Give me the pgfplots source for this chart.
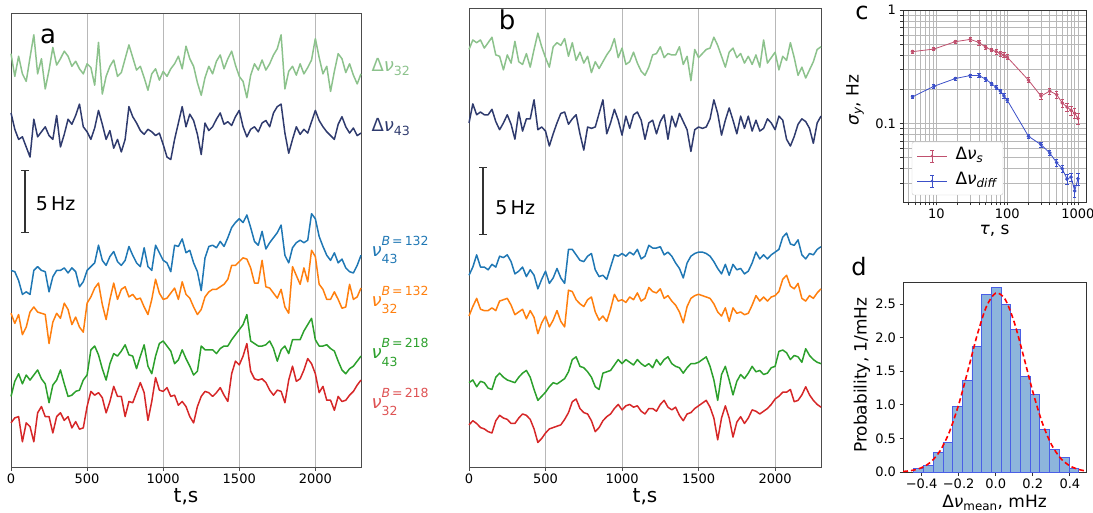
\documentclass[border=0pt]{standalone}
\usepackage{pgfplots}
\usepackage{pgfplotstable}
\usepackage{fontspec}
\setmainfont{DejaVu Sans}
\pgfplotsset{compat=1.18}

\definecolor{cA}{HTML}{1F77B4}
\definecolor{cB}{HTML}{FF7F0E}
\definecolor{cC}{HTML}{2CA02C}
\definecolor{cD}{HTML}{D62728}
\definecolor{lgreen}{HTML}{8CC28C}
\definecolor{navy}{HTML}{2F3B6E}
\definecolor{pinkc}{HTML}{C0506E}
\definecolor{bluec}{HTML}{3C50C8}
\definecolor{histfill}{HTML}{8DB5DC}
\definecolor{histedge}{HTML}{4A5FE6}
\definecolor{gridc}{HTML}{B8B8B8}

% panel a: t [s], six traces [Hz, offset]
\pgfplotstableread{
t g n b o gr r
0 32.8 28.1 15.6 12.2 5.6 3.5
25 31.0 26.8 15.5 11.4 6.8 3.9
50 32.6 26.0 14.8 12.1 7.4 4.0
75 31.2 26.2 13.7 10.5 6.6 2.0
100 30.6 25.4 13.9 11.1 7.3 3.5
125 32.5 24.6 13.7 12.3 6.9 3.2
150 34.3 27.6 15.6 12.7 7.3 2.0
175 31.2 26.2 15.9 12.3 7.7 4.3
200 32.4 26.6 15.6 12.2 7.0 4.8
225 30.0 27.0 15.5 12.1 6.6 4.0
250 31.5 26.3 13.9 9.8 5.1 4.0
275 33.3 26.0 15.1 11.5 6.5 2.7
300 31.9 27.9 15.6 12.2 6.9 4.0
325 32.4 25.4 15.6 11.8 7.7 4.3
350 33.0 26.4 15.8 13.0 6.6 3.7
375 32.6 27.6 15.4 12.5 5.6 4.0
400 31.8 27.2 15.8 11.3 5.7 3.1
425 32.2 27.9 15.5 11.9 6.0 3.6
450 31.6 28.8 14.3 11.1 6.1 3.0
475 31.2 27.0 14.7 10.7 6.9 3.1
500 32.0 26.6 15.6 13.0 7.3 4.8
525 31.7 26.0 15.9 13.5 9.3 6.0
550 30.3 26.9 16.2 14.2 9.6 5.7
575 33.7 28.3 17.6 14.6 8.9 5.9
600 29.6 27.2 16.4 12.9 7.8 5.5
625 31.0 26.0 16.0 11.7 6.9 4.3
650 31.8 26.7 16.7 13.3 8.2 5.2
675 32.3 25.3 17.1 14.6 9.0 6.4
700 31.0 26.0 16.3 13.3 8.8 5.6
725 31.3 25.0 16.0 14.1 9.2 5.6
750 32.4 26.0 16.4 14.3 9.7 4.0
775 33.5 28.6 17.5 13.5 8.9 5.2
800 32.5 27.8 16.8 13.7 8.8 5.1
825 31.5 27.3 16.2 13.3 7.8 5.9
850 31.8 26.7 15.9 13.4 8.8 6.7
875 30.9 26.4 17.4 12.7 9.7 5.9
900 29.9 26.8 15.9 12.1 8.0 3.7
925 31.2 26.6 15.6 13.3 7.4 5.2
950 31.6 26.3 17.6 14.9 8.8 7.1
975 30.7 26.5 17.0 13.8 9.8 6.1
1000 31.4 25.6 16.4 13.3 10.0 6.0
1025 31.0 24.6 16.2 13.4 9.6 6.3
1050 31.6 24.4 15.5 13.8 9.2 5.6
1075 32.0 26.0 17.6 14.2 8.2 5.7
1100 32.6 27.3 17.5 13.3 8.5 4.9
1125 31.6 28.6 18.1 14.7 9.3 5.2
1150 33.4 27.0 17.0 13.7 8.6 4.8
1175 32.4 28.0 17.2 13.4 8.0 4.0
1200 31.8 27.5 16.2 12.7 7.3 3.5
1225 30.5 26.4 15.5 12.1 7.6 4.8
1250 29.5 24.8 14.0 12.5 9.6 5.6
1275 30.9 27.3 16.6 13.5 9.3 6.0
1300 31.8 26.7 17.5 13.9 9.3 5.9
1325 31.2 27.0 17.6 14.1 9.3 5.6
1350 32.2 27.6 17.4 14.1 9.0 5.9
1375 32.7 28.1 17.9 14.3 9.4 6.3
1400 31.6 27.2 17.5 14.5 9.6 5.7
1425 32.4 27.4 18.2 14.9 9.6 5.2
1450 33.0 27.1 19.0 16.0 10.1 7.4
1475 31.9 27.8 19.4 16.0 10.5 8.4
1500 31.0 28.3 19.7 16.3 10.9 8.1
1525 30.6 27.0 19.4 16.6 11.3 8.8
1550 29.3 26.2 20.0 16.5 12.1 9.8
1575 31.1 26.8 19.0 15.8 10.0 7.6
1600 32.0 27.0 17.9 14.6 9.8 7.0
1625 31.5 26.6 17.6 14.6 9.6 6.9
1650 32.3 27.3 18.7 16.4 9.6 7.0
1675 31.5 27.5 17.3 14.3 9.7 6.7
1700 32.0 27.0 17.8 14.2 10.0 6.1
1725 32.7 28.1 18.2 13.8 9.4 5.7
1750 33.2 28.6 18.6 13.4 8.4 6.1
1775 34.3 28.8 19.2 14.1 9.3 6.0
1800 30.0 26.5 16.8 12.7 9.6 5.1
1825 31.4 24.9 16.2 12.2 9.0 6.9
1850 31.8 26.0 17.4 15.9 10.1 8.0
1875 31.1 27.0 17.8 15.2 10.1 6.8
1900 32.0 26.4 18.0 14.5 10.1 7.0
1925 31.2 26.8 17.8 15.8 10.8 7.7
1950 31.7 26.5 18.0 14.7 11.3 8.6
1975 32.3 27.4 20.1 17.2 11.8 8.2
2000 34.0 28.3 19.7 16.7 10.1 7.4
2025 32.5 27.5 18.3 14.5 9.6 5.9
2050 31.2 27.0 17.5 14.1 9.6 6.4
2075 31.8 26.6 16.8 13.3 9.7 5.3
2100 29.8 26.3 16.4 13.3 9.4 5.3
2125 31.4 26.0 17.0 13.9 9.2 4.5
2150 32.8 27.2 16.2 13.3 8.4 5.6
2175 32.4 27.8 16.5 12.6 7.7 5.2
2200 31.3 27.0 15.8 12.7 7.4 5.3
2225 32.0 26.5 15.5 14.5 7.8 5.7
2250 31.1 26.9 15.4 13.3 8.0 6.0
2275 30.4 26.3 16.0 13.5 8.4 6.5
2300 31.2 26.5 16.8 14.2 8.8 6.9
}\dataA

% panel b
\pgfplotstableread{
t g n b o gr r
0 30.7 25.3 14.1 11.1 6.2 3.1
25 31.4 26.7 14.7 11.8 6.4 3.4
50 31.2 25.9 15.6 12.4 5.9 3.2
75 31.4 26.1 14.7 11.6 6.3 2.9
100 30.8 25.9 14.7 11.5 6.2 2.8
125 31.2 25.9 14.5 11.5 5.8 2.6
150 31.6 26.3 14.9 11.7 5.7 2.5
175 30.3 25.4 14.7 11.5 6.6 3.4
200 30.2 24.8 15.5 12.2 6.9 3.8
225 29.2 25.3 15.4 12.3 6.6 3.6
250 30.3 25.9 15.6 12.4 6.4 3.5
275 29.7 25.2 15.1 11.9 6.3 3.2
300 31.3 24.1 14.2 11.2 6.2 3.2
325 29.8 26.1 14.4 11.4 6.6 3.6
350 29.6 24.7 14.7 11.6 6.9 3.9
375 30.4 25.6 14.0 10.9 7.1 3.8
400 29.4 25.6 14.5 11.5 6.6 3.5
425 30.7 27.0 14.1 11.0 5.7 2.8
450 31.9 24.8 13.1 9.8 4.9 1.8
475 30.9 25.0 13.8 10.6 5.2 2.1
500 30.1 24.7 14.4 11.1 5.5 2.5
525 29.4 23.6 13.5 10.3 5.9 2.8
550 30.9 24.5 13.9 10.8 6.2 2.9
575 31.2 25.3 14.6 11.5 6.1 3.0
600 31.0 26.0 13.9 10.7 6.3 3.1
625 31.5 26.1 13.5 10.3 6.5 3.5
650 30.2 25.2 16.0 13.0 7.0 4.0
675 31.2 25.6 16.0 12.9 7.9 4.8
700 29.9 25.9 15.6 12.3 8.1 5.0
725 30.5 24.5 15.2 12.0 7.4 4.3
750 29.7 23.3 15.1 11.8 7.3 4.0
775 30.2 25.0 15.5 12.3 7.0 3.9
800 29.0 24.9 15.7 12.5 6.6 3.4
825 29.8 25.0 14.5 11.4 5.9 2.6
850 29.3 26.0 14.0 10.8 5.7 2.9
875 29.8 27.0 14.1 11.1 6.9 3.4
900 30.3 24.5 13.8 10.7 7.0 3.7
925 30.7 25.3 14.7 11.6 7.1 3.9
950 31.5 26.3 15.6 12.7 7.5 4.3
975 30.1 25.5 15.5 12.2 7.9 4.6
1000 30.8 24.4 15.7 12.3 7.6 4.2
1025 29.6 25.8 15.5 12.1 7.9 4.5
1050 29.8 24.9 15.8 12.5 7.7 4.6
1075 30.5 25.9 15.6 12.3 7.5 4.4
1100 29.7 26.1 16.0 12.8 7.9 4.5
1125 29.1 25.5 15.3 12.2 7.6 4.1
1150 28.8 24.1 15.5 12.4 7.4 3.9
1175 29.4 25.3 16.3 13.2 7.6 4.3
1200 30.3 25.5 16.1 12.9 7.3 4.3
1225 30.4 24.5 16.1 12.8 7.9 4.1
1250 30.9 25.4 16.2 13.1 7.5 4.6
1275 30.1 25.9 15.6 12.4 7.9 4.9
1300 30.4 24.1 15.8 12.6 8.1 4.4
1325 30.3 25.8 15.5 12.2 7.6 4.2
1350 30.3 25.0 15.0 11.9 7.4 4.4
1375 30.9 26.0 14.6 11.4 7.3 3.8
1400 29.6 25.4 13.9 10.6 6.9 3.4
1425 30.2 24.8 15.0 11.8 7.3 3.9
1450 28.4 23.2 15.5 12.4 7.6 4.0
1475 30.7 24.8 15.7 12.6 7.6 4.3
1500 30.1 25.0 15.8 12.7 7.7 4.5
1525 30.4 24.9 15.8 12.6 7.9 4.7
1550 30.7 25.0 15.7 12.5 8.1 4.9
1575 30.8 25.6 15.5 12.4 7.4 4.4
1600 31.6 27.0 15.1 12.0 6.4 3.6
1625 31.0 26.0 14.6 11.4 4.9 2.0
1650 30.2 24.4 14.2 11.1 6.8 3.6
1675 29.4 25.5 14.9 11.7 7.4 4.5
1700 30.5 26.4 14.1 10.7 6.4 3.6
1725 30.8 25.5 14.9 11.7 5.3 2.2
1750 30.1 24.5 14.5 11.3 6.3 3.3
1775 30.4 25.8 14.6 11.4 6.8 3.7
1800 29.7 24.9 14.2 11.2 6.5 3.2
1825 30.2 25.8 14.4 11.3 6.9 3.6
1850 29.6 24.7 15.0 11.9 7.4 4.2
1875 30.3 25.5 15.8 12.6 7.0 4.1
1900 29.4 24.7 15.3 12.2 7.1 3.9
1925 31.4 24.9 15.6 12.5 6.8 4.1
1950 29.7 25.6 15.3 12.2 6.9 4.3
1975 30.1 25.3 15.6 12.5 7.3 4.6
2000 30.5 24.8 15.8 12.6 7.4 5.0
2025 29.2 25.8 16.0 12.9 8.5 5.2
2050 30.2 25.5 16.9 13.8 8.6 5.5
2075 29.9 24.1 17.2 14.1 8.4 5.5
2100 31.2 23.6 16.4 13.3 7.9 5.7
2125 30.1 24.3 16.3 13.1 8.2 4.8
2150 28.8 25.2 16.7 13.5 8.1 4.9
2175 29.4 25.6 15.6 12.4 7.7 5.3
2200 28.6 25.4 15.3 12.2 8.7 5.9
2225 29.2 24.9 15.7 12.6 8.2 5.3
2250 29.8 23.8 15.6 12.4 7.9 4.9
2275 30.7 25.3 16.0 12.8 7.7 4.6
2300 30.9 25.8 16.2 13.1 7.6 4.4
}\dataB

\newcommand{\tickfont}{\fontsize{13}{15}\selectfont}
\newcommand{\labfont}{\fontsize{18}{21}\selectfont}
\newcommand{\idxfont}{\fontsize{12.5}{14}\selectfont}
% nu with stacked sub- and superscript
\newcommand{\nuB}[2]{\textit{ν}\rlap{\raisebox{0.62em}{\idxfont\textit{B}\,=\,#1}}\raisebox{-0.42em}{\idxfont #2}}

\pgfplotsset{
  trace/.style={
    scale only axis, clip=false,
    xmin=0, xmax=2300, ymin=0,
    xtick={0,500,1000,1500,2000},
    xticklabels={0,500,1000,1500,2000},
    ytick=\empty, tick pos=left,
    xmajorgrids, grid style={gridc, line width=0.8pt},
    axis line style={black!70, line width=0.8pt},
    tick style={black!70, line width=0.8pt},
    tick align=outside, major tick length=3.5pt,
    ticklabel style={font=\tickfont},
    xlabel={t,s}, xlabel style={font=\fontsize{20}{24}\selectfont},
  },
  line/.style={line width=1.5pt, line join=round},
  small/.style={
    scale only axis,
    axis line style={black!80, line width=0.8pt},
    tick style={black!80, line width=0.8pt},
    tick align=outside, tick pos=left, major tick length=3.5pt,
    ticklabel style={font=\tickfont},
    label style={font=\fontsize{17}{20}\selectfont},
  },
}

\begin{document}
\begin{tikzpicture}[x=1pt,y=1pt]
\useasboundingbox (0,0) rectangle (1093,512);

% ---------------- panel a ----------------
\begin{axis}[trace, at={(11pt,45pt)}, anchor=south west,
  width=350pt, height=454pt, ymax=36.03,
  xlabel style={at={(axis description cs:0.5,-0.066)}, anchor=center}]
\addplot[line, lgreen] table[x=t, y=g] {\dataA};
\addplot[line, navy] table[x=t, y=n] {\dataA};
\addplot[line, cA] table[x=t, y=b] {\dataA};
\addplot[line, cB] table[x=t, y=o] {\dataA};
\addplot[line, cC] table[x=t, y=gr] {\dataA};
\addplot[line, cD] table[x=t, y=r] {\dataA};
\draw[black!80, line width=1.2pt, |-|] (axis cs:92,18.57) -- (axis cs:92,23.57);
\node[anchor=west, font=\fontsize{19}{22}\selectfont] at (axis cs:140,20.9) {5\,Hz};
\node[anchor=west, lgreen, font=\labfont] at (axis description cs:1.02,0.881) {Δ\textit{ν}\textsubscript{32}};
\node[anchor=west, navy, font=\labfont] at (axis description cs:1.02,0.749) {Δ\textit{ν}\textsubscript{43}};
\node[anchor=west, cA, font=\labfont] at (axis description cs:1.02,0.478) {\nuB{132}{43}};
\node[anchor=west, cB, font=\labfont] at (axis description cs:1.02,0.368) {\nuB{132}{32}};
\node[anchor=west, cC, font=\labfont] at (axis description cs:1.02,0.253) {\nuB{218}{43}};
\node[anchor=west, cD!80, font=\labfont] at (axis description cs:1.02,0.143) {\nuB{218}{32}};
\end{axis}

% ---------------- panel b ----------------
\begin{axis}[trace, at={(469pt,45pt)}, anchor=south west,
  width=352pt, height=459pt, ymax=33.75,
  xlabel style={at={(axis description cs:0.5,-0.065)}, anchor=center}]
\addplot[line, lgreen] table[x=t, y=g] {\dataB};
\addplot[line, navy] table[x=t, y=n] {\dataB};
\addplot[line, cA] table[x=t, y=b] {\dataB};
\addplot[line, cB] table[x=t, y=o] {\dataB};
\addplot[line, cC] table[x=t, y=gr] {\dataB};
\addplot[line, cD] table[x=t, y=r] {\dataB};
\draw[black!80, line width=1.2pt, |-|] (axis cs:91,17.06) -- (axis cs:91,22.06);
\node[anchor=west, font=\fontsize{19}{22}\selectfont] at (axis cs:150,19.1) {5\,Hz};
\end{axis}

% ---------------- panel c ----------------
\begin{axis}[small, at={(903pt,310pt)}, anchor=south west,
  width=183pt, height=192pt,
  xmode=log, ymode=log,
  xmin=3.37, xmax=1300, ymin=0.0204, ymax=1,
  xtick={10,100,1000}, xticklabels={10,100,1000},
  ytick={0.1,1}, yticklabels={0.1,1},
  minor xtick={4,5,6,7,8,9,20,30,40,50,60,70,80,90,200,300,400,500,600,700,800,900},
  minor ytick={0.03,0.04,0.05,0.06,0.07,0.08,0.09,0.2,0.3,0.4,0.5,0.6,0.7,0.8,0.9},
  grid=both, major grid style={gridc, line width=0.7pt}, minor grid style={gridc, line width=0.7pt},
  xlabel={\textit{τ}, s}, ylabel={\textit{σ}\textsubscript{\textit{y}}, Hz},
  xlabel style={at={(axis description cs:0.5,-0.15)}, anchor=center},
  ylabel style={at={(axis description cs:-0.262,0.53)}, anchor=center},
]
\addplot[pinkc, line width=0.8pt, mark=*, mark size=1.4pt,
  error bars/.cd, y dir=both, y explicit,
  error bar style={line width=0.6pt}, error mark options={rotate=90, mark size=1.6pt, line width=0.6pt},
  ] coordinates {
  (4.6,0.43) +- (0,0.015) (9.2,0.453) +- (0,0.015) (18.4,0.526) +- (0,0.02)
  (30,0.551) +- (0,0.02) (40,0.518) +- (0,0.025) (50,0.468) +- (0,0.02)
  (60,0.445) +- (0,0.015) (70,0.43) +- (0,0.02) (80,0.415) +- (0,0.02)
  (90,0.40) +- (0,0.02) (100,0.385) +- (0,0.02) (200,0.241) +- (0,0.012)
  (300,0.175) +- (0,0.01) (400,0.193) +- (0,0.012) (500,0.18) +- (0,0.012)
  (600,0.152) +- (0,0.012) (700,0.140) +- (0,0.012) (800,0.131) +- (0,0.012)
  (900,0.123) +- (0,0.012) (1000,0.111) +- (0,0.012)
};
\addplot[bluec, line width=0.8pt, mark=*, mark size=1.4pt,
  error bars/.cd, y dir=both, y explicit,
  error bar style={line width=0.6pt}, error mark options={rotate=90, mark size=1.6pt, line width=0.6pt},
  ] coordinates {
  (4.6,0.172) +- (0,0.006) (9.2,0.213) +- (0,0.008) (18.4,0.249) +- (0,0.008)
  (30,0.265) +- (0,0.009) (40,0.265) +- (0,0.01) (50,0.245) +- (0,0.008)
  (60,0.225) +- (0,0.008) (70,0.208) +- (0,0.008) (80,0.194) +- (0,0.008)
  (90,0.175) +- (0,0.008) (100,0.161) +- (0,0.007) (200,0.0773) +- (0,0.003)
  (300,0.0653) +- (0,0.003) (400,0.0551) +- (0,0.003) (500,0.0453) +- (0,0.003)
  (600,0.0401) +- (0,0.003) (700,0.0325) +- (0,0.003) (800,0.0338) +- (0,0.003)
  (900,0.0255) +- (0,0.003) (1000,0.0327) +- (0,0.004)
};
\end{axis}

% legend of panel c, drawn as in the reference (line, dot and error bar)
\draw[black!20, fill=white, rounded corners=2pt] (912,317) rectangle (1003,370);
\draw[pinkc, line width=0.8pt] (917,356) -- (947,356);
\draw[pinkc, line width=0.6pt] (932,350) -- (932,362) (930,350) -- (934,350) (930,362) -- (934,362);
\fill[pinkc] (932,356) circle (1.4pt);
\node[anchor=west, font=\fontsize{17}{20}\selectfont] at (952,357) {Δ\textit{ν}\textsubscript{\textit{s}}};
\draw[bluec, line width=0.8pt] (917,331) -- (947,331);
\draw[bluec, line width=0.6pt] (932,325) -- (932,337) (930,325) -- (934,325) (930,337) -- (934,337);
\fill[bluec] (932,331) circle (1.4pt);
\node[anchor=west, font=\fontsize{17}{20}\selectfont] at (952,332) {Δ\textit{ν}\textsubscript{\textit{diff}}};

% ---------------- panel d ----------------
\begin{axis}[small, at={(903pt,40pt)}, anchor=south west,
  width=183pt, height=190pt,
  xmin=-0.5, xmax=0.487, ymin=0, ymax=2.83,
  xtick={-0.4,-0.2,0,0.2,0.4}, xticklabels={−0.4,−0.2,0.0,0.2,0.4},
  ytick={0,0.5,1,1.5,2,2.5}, yticklabels={0.0,0.5,1.0,1.5,2.0,2.5},
  xlabel={Δ\textit{ν}\textsubscript{mean}, mHz}, ylabel={Probability, 1/mHz},
  xlabel style={at={(axis description cs:0.5,-0.163)}, anchor=center},
  ylabel style={at={(axis description cs:-0.224,0.51)}, anchor=center},
]
\addplot[ybar interval, fill=histfill, draw=histedge, line width=0.7pt] coordinates {
  (-0.442,0.05) (-0.390,0.10) (-0.337,0.29) (-0.285,0.44) (-0.233,0.98)
  (-0.180,1.37) (-0.128,1.87) (-0.076,2.65) (-0.023,2.75) (0.029,2.49)
  (0.081,2.12) (0.134,1.42) (0.186,1.16) (0.238,0.64) (0.291,0.34)
  (0.343,0.22) (0.395,0.05) (0.447,0.05)
};
\addplot[red, line width=1.6pt, dash pattern=on 5pt off 3pt, smooth] coordinates {
  (-0.50,0.008) (-0.45,0.024) (-0.40,0.064) (-0.35,0.150) (-0.30,0.315)
  (-0.25,0.595) (-0.20,1.002) (-0.15,1.511) (-0.10,2.040) (-0.05,2.465)
  (0.00,2.664) (0.05,2.576) (0.10,2.230) (0.15,1.727) (0.20,1.197)
  (0.25,0.742) (0.30,0.412) (0.35,0.205) (0.40,0.091) (0.45,0.036) (0.487,0.016)
};
\end{axis}

% panel letters
\node[font=\fontsize{26}{30}\selectfont] at (48,476) {a};
\node[font=\fontsize{26}{30}\selectfont] at (507,492) {b};
\node[font=\fontsize{24}{28}\selectfont] at (862,499) {c};
\node[font=\fontsize{24}{28}\selectfont] at (859,245) {d};
\end{tikzpicture}
\end{document}
